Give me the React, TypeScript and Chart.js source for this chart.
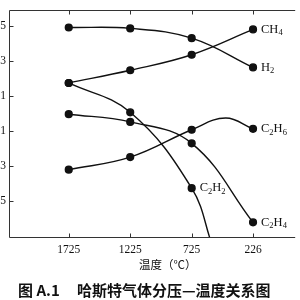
import React, { useEffect, useRef } from "react";
import { Chart, registerables } from "chart.js";

Chart.register(...registerables);

// ---- data ----
const temperatures = [1725, 1225, 725, 226];
const yTickValues = [5, 3, 1, -1, -3, -5];
const h2 = [4.94, 4.89, 4.33, 2.65];
const ch4 = [1.76, 2.49, 3.38, 4.83];
const c2h2Temps = [1725, 1225, 725, 560];
const c2h2 = [1.76, 0.08, -4.27, -7.5];
const c2h4 = [-0.03, -0.47, -1.7, -6.23];
const c2h6Temps = [1725, 1225, 725, 449, 226];
const c2h6 = [-3.21, -2.49, -0.92, -0.25, -0.87];
const seriesNames = ["H2", "CH4", "C2H2", "C2H4", "C2H6"];
const labelIndex = [3, 3, 2, 3, 4];
const xTitle = "温度（℃）";
const captionNo = "图 A.1";
const captionText = "哈斯特气体分压—温度关系图";

const INK = "#111";

function pts(xs: number[], ys: number[]) {
  return ys.map((y, i) => ({ x: xs[i], y }));
}

function drawChem(ctx: CanvasRenderingContext2D, text: string, x: number, y: number) {
  let cx = x;
  for (const ch of text) {
    if (/[0-9]/.test(ch)) {
      ctx.font = "8.5px 'Liberation Serif', serif";
      ctx.fillText(ch, cx, y + 3.5);
    } else {
      ctx.font = "12.5px 'Liberation Serif', serif";
      ctx.fillText(ch, cx, y);
    }
    cx += ctx.measureText(ch).width;
  }
}

const decorPlugin = {
  id: "decor",
  afterDraw(chart: any) {
    const ctx = chart.ctx as CanvasRenderingContext2D;
    const area = chart.chartArea;
    const xs = chart.scales.x;
    const ys = chart.scales.y;
    ctx.save();
    ctx.strokeStyle = "#333";
    ctx.lineWidth = 1;
    const L = Math.round(area.left) + 0.5;
    const B = Math.round(area.bottom) + 0.5;
    const T = Math.round(area.top) + 0.5;
    ctx.beginPath();
    ctx.moveTo(L, T);
    ctx.lineTo(L, B);
    ctx.lineTo(area.right, B);
    ctx.moveTo(L, T);
    ctx.lineTo(area.right, T);
    for (const v of yTickValues) {
      const y = Math.round(ys.getPixelForValue(v)) + 0.5;
      ctx.moveTo(L, y);
      ctx.lineTo(L + 4, y);
    }
    for (const t of temperatures) {
      const x = Math.round(xs.getPixelForValue(t)) + 0.5;
      ctx.moveTo(x, B);
      ctx.lineTo(x, B - 4);
      ctx.moveTo(x, T);
      ctx.lineTo(x, T + 4);
    }
    ctx.stroke();

    // series labels
    ctx.fillStyle = INK;
    ctx.textBaseline = "middle";
    ctx.textAlign = "left";
    seriesNames.forEach((name, i) => {
      const el = chart.getDatasetMeta(i).data[labelIndex[i]];
      if (el) drawChem(ctx, name, el.x + 8, el.y);
    });

    // axis title
    ctx.font = "11.5px 'Noto Sans CJK SC', sans-serif";
    ctx.textAlign = "left";
    ctx.fillText(xTitle, 139, 265);

    // caption
    ctx.font = "bold 15px 'Noto Sans CJK SC', sans-serif";
    ctx.fillText(captionNo, 18, 290);
    ctx.fillText(captionText, 77, 290);
    ctx.restore();
  },
};

export default function App() {
  const ref = useRef<HTMLCanvasElement>(null);
  useEffect(() => {
    if (!ref.current) return;
    const common = {
      borderColor: INK,
      backgroundColor: INK,
      borderWidth: 1.4,
      pointRadius: 3.4,
      pointHoverRadius: 3.4,
      tension: 0.4,
      fill: false,
    };
    const chart = new Chart(ref.current, {
      type: "line",
      data: {
        datasets: [
          { ...common, label: "H2", data: pts(temperatures, h2) },
          { ...common, label: "CH4", data: pts(temperatures, ch4) },
          { ...common, label: "C2H2", data: pts(c2h2Temps, c2h2), pointRadius: [3.4, 3.4, 3.4, 0] },
          { ...common, label: "C2H4", data: pts(temperatures, c2h4) },
          { ...common, label: "C2H6", data: pts(c2h6Temps, c2h6), pointRadius: [3.4, 3.4, 3.4, 0, 3.4] },
        ],
      } as any,
      options: {
        animation: false,
        responsive: false,
        devicePixelRatio: 1,
        layout: { padding: { top: 4, left: 0, right: 0, bottom: 0 } },
        plugins: { legend: { display: false }, tooltip: { enabled: false } },
        scales: {
          x: {
            type: "linear",
            reverse: true,
            min: -117,
            max: 2211,
            grid: { display: false, drawTicks: false },
            border: { display: false },
            afterBuildTicks: (s: any) => {
              s.ticks = temperatures.map((v) => ({ value: v }));
            },
            afterFit: (s: any) => {
              s.height = 63;
            },
            ticks: {
              padding: 6,
              color: INK,
              maxRotation: 0,
              autoSkip: false,
              font: { family: "'Liberation Serif', serif", size: 11.5 },
              callback: (v: any) => String(v),
            },
          },
          y: {
            type: "linear",
            min: -7.07,
            max: 5.95,
            grid: { display: false, drawTicks: false },
            border: { display: false },
            afterBuildTicks: (s: any) => {
              s.ticks = yTickValues.map((v) => ({ value: v }));
            },
            afterFit: (s: any) => {
              s.width = 9;
            },
            ticks: {
              padding: 3,
              color: INK,
              autoSkip: false,
              font: { family: "'Liberation Serif', serif", size: 11.5 },
              callback: (v: any) => String(v),
            },
          },
        },
      } as any,
      plugins: [decorPlugin],
    });
    return () => chart.destroy();
  }, []);
  return (
    <div style={{ position: "absolute", left: 0, top: 0, width: 300, height: 300, background: "#fff" }}>
      <canvas ref={ref} width={300} height={300} />
    </div>
  );
}
